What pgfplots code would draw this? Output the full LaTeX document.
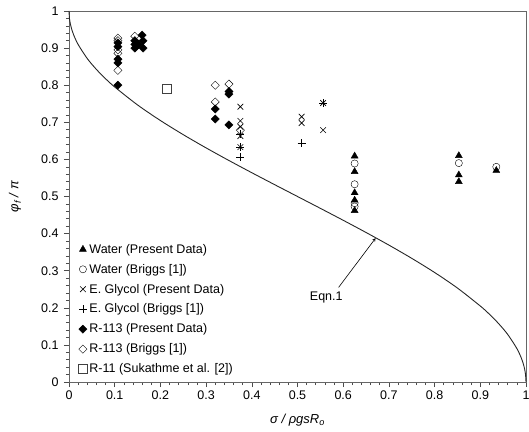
\documentclass[border=0pt]{standalone}
\usepackage{pgfplots}
\pgfplotsset{compat=1.18}
\usepackage{fontspec}
\setmainfont{Liberation Sans}
\begin{document}
\begin{tikzpicture}
\begin{axis}[
  scale only axis,
  width=457pt, height=371pt,
  xmin=0, xmax=1, ymin=0, ymax=1,
  xtick={0,0.1,...,1.01}, ytick={0,0.1,...,1.01},
  minor tick num=4,
  tick pos=left,
  tick align=outside,
  major tick length=5pt,
  minor tick length=3pt,
  axis line style={draw=black!60, line width=0.9pt},
  every tick/.style={black!70, line width=0.6pt},
  /pgf/number format/assume math mode=true,
  ticklabel style={font=\fontsize{12.5}{15}\selectfont},
  yticklabel style={xshift=-2pt},
  xlabel={\textit{σ / ρgsR\textsubscript{o}}},
  ylabel={\textit{φ\textsubscript{f} / π}},
  label style={font=\fontsize{13}{15}\selectfont},
  xlabel style={at={(axis description cs:0.5,-0.102)}, anchor=center},
  ylabel style={at={(axis description cs:-0.118,0.5)}, anchor=center},
  legend style={draw=none, fill=none, at={(0.018,0.012)}, anchor=south west,
    font=\fontsize{12.5}{15}\selectfont, row sep=5.4pt, inner sep=1pt},
  legend cell align=left,
  legend image code/.code={\draw[#1] plot coordinates {(0.12cm,0cm)};},
  clip=false,
]
\coordinate (O) at (rel axis cs:0,0);
\coordinate (T) at (rel axis cs:1,1);
% Water (Present Data)
\addplot[only marks, mark=triangle*, mark size=4pt, black] coordinates {
(0.625,0.609) (0.625,0.567) (0.625,0.510) (0.625,0.490) (0.625,0.462)
(0.853,0.610) (0.853,0.558) (0.853,0.540) (0.935,0.570)};
\addlegendentry{Water (Present Data)}
% Water (Briggs)
\addplot[only marks, mark=o, mark size=3.6pt, black, mark options={fill=white}] coordinates {
(0.625,0.589) (0.625,0.533) (0.625,0.482) (0.625,0.473)
(0.853,0.590) (0.935,0.580)};
\addlegendentry{Water (Briggs [1])}
% E. Glycol (Present Data)
\addplot[only marks, mark=x, mark size=4pt, black, line width=0.6pt] coordinates {
(0.375,0.742) (0.375,0.704) (0.375,0.688) (0.375,0.663) (0.375,0.633)
(0.509,0.715) (0.509,0.698) (0.556,0.752) (0.556,0.679)};
\addlegendentry{E. Glycol (Present Data)}
% E. Glycol (Briggs)
\addplot[only marks, mark=+, mark size=4pt, black, line width=0.6pt] coordinates {
(0.375,0.668) (0.375,0.633) (0.375,0.607)
(0.509,0.644) (0.556,0.752)};
\addlegendentry{E. Glycol (Briggs [1])}
% R-113 (Present Data)
\addplot[only marks, mark=square*, mark size=2.9pt, mark options={rotate=45}, black] coordinates {
(0.107,0.800) (0.107,0.860) (0.107,0.870) (0.107,0.904) (0.107,0.914)
(0.144,0.900) (0.144,0.910) (0.144,0.920) (0.162,0.900) (0.162,0.920) (0.160,0.935) (0.152,0.910)
(0.320,0.709) (0.320,0.736) (0.350,0.693) (0.350,0.776) (0.350,0.783)};
\addlegendentry{R-113 (Present Data)}
% R-113 (Briggs)
\addplot[only marks, mark=square, mark size=2.9pt, mark options={rotate=45, fill=white}, black] coordinates {
(0.107,0.840) (0.107,0.886) (0.107,0.895) (0.107,0.920) (0.107,0.927)
(0.144,0.932)
(0.320,0.800) (0.320,0.755) (0.350,0.803) (0.375,0.679)};
\addlegendentry{R-113 (Briggs [1])}
% R-11 (Sukhatme)
\addplot[only marks, mark=square, mark size=4.5pt, black!75, line width=0.8pt] coordinates {
(0.214,0.790)};
\addlegendentry{R-11 (Sukathme et al. [2])}
% Eqn. 1
\addplot[black!85, line width=0.9pt, smooth] coordinates {
(0,1) (0.001,0.9799) (0.0025,0.9682) (0.005,0.9549) (0.01,0.9362) (0.02,0.9097) (0.04,0.8718)
(0.06,0.8425) (0.08,0.8174) (0.1,0.7952) (0.15,0.7468) (0.2,0.7048) (0.25,0.6667)
(0.3,0.6310) (0.35,0.5970) (0.4,0.5641) (0.45,0.5319) (0.5,0.5) (0.55,0.4681)
(0.6,0.4359) (0.65,0.4030) (0.7,0.3690) (0.75,0.3333) (0.8,0.2952) (0.85,0.2532)
(0.9,0.2048) (0.92,0.1826) (0.94,0.1575) (0.96,0.1282) (0.98,0.0903) (0.99,0.0638)
(0.995,0.0451) (0.9975,0.0318) (0.999,0.0201) (1,0)};
\draw[-stealth, black, line width=0.6pt] (axis cs:0.59,0.255) -- (axis cs:0.671,0.388);
\node[font=\fontsize{12.5}{15}\selectfont] at (axis cs:0.563,0.229) {Eqn.1};
\end{axis}
\pgfresetboundingbox
\path ([shift={(-69pt,-49pt)}]O) rectangle ([shift={(3pt,11pt)}]T);
\end{tikzpicture}
\end{document}
